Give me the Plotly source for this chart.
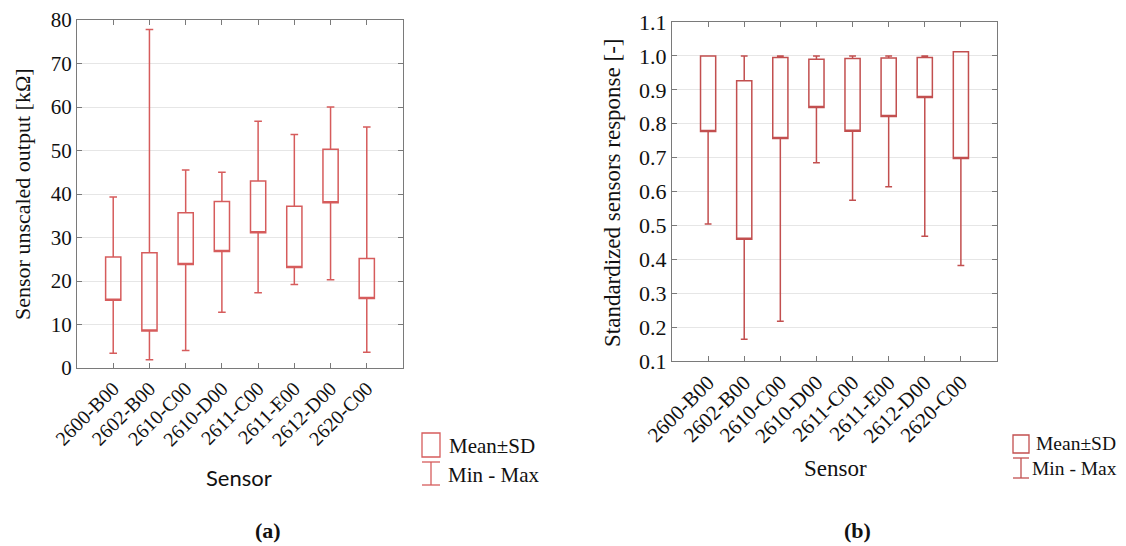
import plotly.graph_objects as go

sensors = ["2600-B00", "2602-B00", "2610-C00", "2610-D00", "2611-C00", "2611-E00", "2612-D00", "2620-C00"]

# (a) unscaled output [kOhm]
a_sd_low = [15.6, 8.5, 23.8, 26.8, 31.1, 23.1, 38.0, 16.0]
a_sd_high = [25.5, 26.5, 35.7, 38.3, 43.0, 37.2, 50.3, 25.2]
a_min = [3.4, 1.9, 4.0, 12.8, 17.3, 19.2, 20.3, 3.6]
a_max = [39.3, 77.8, 45.5, 45.0, 56.7, 53.7, 60.0, 55.4]

# (b) standardized response [-]
b_sd_low = [0.777, 0.459, 0.756, 0.848, 0.778, 0.821, 0.877, 0.697]
b_sd_high = [1.000, 0.927, 0.995, 0.990, 0.992, 0.994, 0.995, 1.012]
b_min = [0.504, 0.164, 0.217, 0.685, 0.574, 0.614, 0.468, 0.382]
b_max = [1.000, 1.000, 1.000, 1.000, 1.000, 1.000, 1.000, 1.012]

# page body has an 8px default margin: figure sized to fit the window
OFF = 8
W, H = 1126 - OFF, 546 - OFF
def px(x):
    return (x - OFF) / W
def py(y):
    return 1 - (y - OFF) / H

COL_A = "#d65c5c"
COL_B = "#c24f4f"
FONT_A = "Liberation Serif"
FONT_B = "Liberation Serif"

fig = go.Figure()
fig.add_trace(go.Box(
    x=sensors, q1=a_sd_low, median=a_sd_low, q3=a_sd_high,
    lowerfence=a_min, upperfence=a_max,
    width=0.42, whiskerwidth=0.5, boxpoints=False,
    fillcolor="rgba(0,0,0,0)", line=dict(color=COL_A, width=1.5),
    xaxis="x", yaxis="y", showlegend=False, name="a"))
fig.add_trace(go.Box(
    x=sensors, q1=b_sd_low, median=b_sd_low, q3=b_sd_high,
    lowerfence=b_min, upperfence=b_max,
    width=0.42, whiskerwidth=0.45, boxpoints=False,
    fillcolor="rgba(0,0,0,0)", line=dict(color=COL_B, width=1.5),
    xaxis="x2", yaxis="y2", showlegend=False, name="b"))

axcommon = dict(showline=True, linecolor="#7a7a7a", linewidth=1, mirror="ticks",
                ticks="inside", ticklen=5, tickcolor="#7a7a7a", zeroline=False,
                automargin=False)

fig.update_layout(
    width=W, height=H, autosize=False,
    margin=dict(l=0, r=0, t=0, b=0, pad=0),
    paper_bgcolor="white", plot_bgcolor="white",
    showlegend=False,
    xaxis=dict(domain=[px(77), px(403)], anchor="y", type="category",
               categoryorder="array", categoryarray=sensors,
               range=[-1, 8], tickangle=-45, showgrid=False,
               tickfont=dict(family=FONT_A, size=20, color="#111"), **axcommon),
    yaxis=dict(domain=[py(368), py(20)], anchor="x", range=[0, 80], dtick=10,
               showgrid=True, gridcolor="#e6e6e6", gridwidth=1,
               tickfont=dict(family=FONT_A, size=21, color="#111"), **axcommon),
    xaxis2=dict(domain=[px(672), px(997)], anchor="y2", type="category",
                categoryorder="array", categoryarray=sensors,
                range=[-1, 8], tickangle=-45, showgrid=False,
                tickfont=dict(family=FONT_B, size=21, color="#111"), **axcommon),
    yaxis2=dict(domain=[py(361), py(22)], anchor="x2", range=[0.1, 1.1], dtick=0.1,
                tick0=0.1, tickformat=".1f",
                showgrid=True, gridcolor="#e6e6e6", gridwidth=1,
                tickfont=dict(family=FONT_B, size=22, color="#111"), **axcommon),
)

ann = []
# axis titles
ann.append(dict(text="Sensor unscaled output [kΩ]", x=px(22), y=py(194), xref="paper", yref="paper",
                textangle=-90, showarrow=False, xanchor="center", yanchor="middle",
                font=dict(family=FONT_A, size=22, color="#111")))
ann.append(dict(text="Standardized sensors response [-]", x=px(613), y=py(193), xref="paper", yref="paper",
                textangle=-90, showarrow=False, xanchor="center", yanchor="middle",
                font=dict(family=FONT_B, size=23, color="#111")))
ann.append(dict(text="Sensor", x=px(239), y=py(477), xref="paper", yref="paper",
                showarrow=False, xanchor="center", yanchor="middle",
                font=dict(family="Lato", size=22, color="#111")))
ann.append(dict(text="Sensor", x=px(835), y=py(468), xref="paper", yref="paper",
                showarrow=False, xanchor="center", yanchor="middle",
                font=dict(family=FONT_B, size=23, color="#111")))
# legend texts
for txt, x, y, fam, sz in [("Mean±SD", 447, 446, FONT_A, 21), ("Min - Max", 446, 475, FONT_A, 21),
                           ("Mean±SD", 1034, 443, FONT_B, 19.5), ("Min - Max", 1030, 468, FONT_B, 19.5)]:
    ann.append(dict(text=txt, x=px(x), y=py(y), xref="paper", yref="paper",
                    showarrow=False, xanchor="left", yanchor="middle",
                    font=dict(family=fam, size=sz, color="#111")))
# captions
ann.append(dict(text="<b>(a)</b>", x=px(268), y=py(530), xref="paper", yref="paper",
                showarrow=False, xanchor="center", yanchor="middle",
                font=dict(family=FONT_A, size=22, color="#111")))
ann.append(dict(text="<b>(b)</b>", x=px(857), y=py(530), xref="paper", yref="paper",
                showarrow=False, xanchor="center", yanchor="middle",
                font=dict(family=FONT_B, size=22, color="#111")))

shapes = []
def legend_icons(x0, x1, by0, by1, wy0, wy1, col):
    xc = (x0 + x1) / 2
    shapes.append(dict(type="rect", xref="paper", yref="paper", x0=px(x0), x1=px(x1),
                       y0=py(by1), y1=py(by0), line=dict(color=col, width=1.3)))
    shapes.append(dict(type="line", xref="paper", yref="paper", x0=px(xc), x1=px(xc),
                       y0=py(wy0), y1=py(wy1), line=dict(color=col, width=1.3)))
    for yy in (wy0, wy1):
        shapes.append(dict(type="line", xref="paper", yref="paper", x0=px(x0), x1=px(x1),
                           y0=py(yy), y1=py(yy), line=dict(color=col, width=1.3)))

legend_icons(422, 440, 433, 457, 462, 485, COL_A)
legend_icons(1013, 1029, 435, 453, 458, 478, COL_B)

fig.update_layout(annotations=ann, shapes=shapes)
fig.write_html("out.html")
